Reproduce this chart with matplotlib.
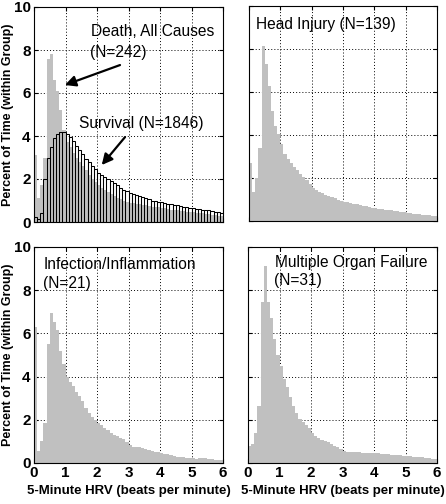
import numpy as np
import matplotlib
matplotlib.use("Agg")
import matplotlib.pyplot as plt

plt.rcParams['font.family'] = ['Liberation Sans', 'DejaVu Sans']

bin_edges = np.round(np.arange(0, 6.01, 0.1), 2)

death_all = [3.1, 1.1, 1.7, 3.0, 7.6, 7.8, 6.6, 6.1, 5.2, 4.3,
             3.7, 3.5, 3.2, 3.0, 2.8, 2.6, 2.4, 2.2, 2.0, 1.85,
             1.7, 1.6, 1.5, 1.4, 1.3, 1.2, 1.1, 1.05, 1.0, 0.95,
             0.9, 0.87, 0.84, 0.82, 0.8, 0.78, 0.75, 0.72, 0.7, 0.68,
             0.65, 0.63, 0.6, 0.58, 0.56, 0.54, 0.52, 0.5, 0.48, 0.46,
             0.45, 0.43, 0.41, 0.4, 0.38, 0.36, 0.34, 0.32, 0.3, 0.28]

survival = [0.25, 0.15, 0.4, 2.0, 3.0, 3.5, 3.9, 4.1, 4.2, 4.2,
            4.1, 3.95, 3.75, 3.55, 3.35, 3.15, 2.95, 2.8, 2.6, 2.45,
            2.3, 2.2, 2.1, 2.0, 1.9, 1.8, 1.7, 1.6, 1.5, 1.42,
            1.35, 1.3, 1.25, 1.2, 1.15, 1.1, 1.05, 1.0, 0.98, 0.95,
            0.92, 0.88, 0.85, 0.82, 0.8, 0.77, 0.74, 0.72, 0.7, 0.67,
            0.65, 0.62, 0.6, 0.58, 0.56, 0.54, 0.5, 0.47, 0.45, 0.42]

head_injury = [2.7, 1.35, 2.0, 3.4, 8.15, 7.3, 6.3, 5.1, 4.4, 4.05,
               3.6, 3.1, 2.9, 2.7, 2.5, 2.35, 2.2, 2.05, 1.9, 1.7,
               1.55, 1.45, 1.35, 1.3, 1.2, 1.15, 1.1, 1.05, 1.0, 0.95,
               0.9, 0.87, 0.84, 0.8, 0.77, 0.74, 0.71, 0.68, 0.65, 0.62,
               0.6, 0.58, 0.56, 0.53, 0.51, 0.49, 0.47, 0.45, 0.42, 0.4,
               0.38, 0.36, 0.34, 0.33, 0.31, 0.29, 0.28, 0.26, 0.24, 0.22]

infection = [6.3, 0.55, 1.0, 1.85, 5.5, 6.95, 6.55, 6.15, 5.2, 4.6,
             4.0, 3.75, 3.55, 3.3, 3.1, 2.85, 2.55, 2.3, 2.15, 2.0,
             1.85, 1.75, 1.6, 1.55, 1.4, 1.3, 1.25, 1.15, 1.1, 0.95,
             0.85, 0.75, 0.75, 0.73, 0.7, 0.65, 0.6, 0.55, 0.5, 0.5,
             0.45, 0.42, 0.4, 0.36, 0.33, 0.3, 0.28, 0.26, 0.25, 0.23,
             0.22, 0.2, 0.25, 0.25, 0.22, 0.2, 0.18, 0.16, 0.15, 0.14]

organ_failure = [0.8, 0.9, 1.4, 2.65, 7.45, 9.1, 7.45, 6.7, 5.75, 5.0,
                 4.5, 3.9, 3.5, 3.05, 2.65, 2.3, 2.05, 1.9, 1.75, 1.6,
                 1.4, 1.25, 1.15, 1.05, 1.0, 0.95, 0.9, 0.8, 0.72, 0.65,
                 0.57, 0.53, 0.53, 0.52, 0.5, 0.5, 0.48, 0.46, 0.46, 0.45,
                 0.45, 0.44, 0.42, 0.41, 0.4, 0.38, 0.37, 0.36, 0.35, 0.33,
                 0.33, 0.32, 0.3, 0.29, 0.28, 0.27, 0.25, 0.22, 0.2, 0.2]

x_ticks = [0, 1, 2, 3, 4, 5, 6]
y_ticks = [0, 2, 4, 6, 8, 10]
ylabel_text = "Percent of Time (within Group)"
xlabel_text = "5-Minute HRV (beats per minute)"

GRAY = "#c0c0c0"
ANN_FS = 11.2

fig = plt.figure(figsize=(4.46, 5.04), dpi=100)
W, H = 446, 504

def make_ax(l, r, t, b):
    return fig.add_axes([l / W, 1 - b / H, (r - l) / W, (b - t) / H])

ax_tl = make_ax(34, 223, 7, 222)
ax_tr = make_ax(249, 437, 6, 221)
ax_bl = make_ax(34, 223, 247, 463)
ax_br = make_ax(248, 437, 247, 463)

left = bin_edges[:-1]
width = 0.1

def style(ax, show_x, show_y):
    ax.set_xlim(0, 6)
    ax.set_ylim(0, 10)
    ax.set_xticks(x_ticks)
    ax.set_yticks(y_ticks)
    ax.set_axisbelow(True)
    ax.grid(True, linestyle=(0, (1, 2.2)), color="black", linewidth=0.7)
    ax.tick_params(direction="in", top=True, right=True, length=3,
                   labelsize=11, width=0.8, pad=2.5)
    for lab in ax.get_xticklabels() + ax.get_yticklabels():
        lab.set_fontweight("bold")
    if not show_x:
        ax.set_xticklabels([])
    if not show_y:
        ax.set_yticklabels([])
    for s in ax.spines.values():
        s.set_linewidth(0.8)

def gray_hist(ax, vals):
    ax.bar(left, vals, width=width, align="edge", color=GRAY, edgecolor="none",
           linewidth=0)

arrow_props = dict(arrowstyle="-|>", color="black", lw=1.6,
                   mutation_scale=16, shrinkA=0, shrinkB=0)

# Top-left
gray_hist(ax_tl, death_all)
ax_tl.bar(left, survival, width=width, align="edge", fill=False,
          edgecolor="black", linewidth=0.75)
style(ax_tl, False, True)
ax_tl.set_ylabel(ylabel_text, fontsize=9, fontweight="bold")
ax_tl.yaxis.set_label_coords(-0.108, 0.5)
ax_tl.text(1.8, 8.85, "Death, All Causes", fontsize=ANN_FS, va="center", ha="left")
ax_tl.text(1.78, 7.9, "(N=242)", fontsize=ANN_FS, va="center", ha="left")
ax_tl.annotate("", xy=(0.98, 6.37), xytext=(2.73, 7.3), arrowprops=arrow_props)
ax_tl.text(1.43, 4.6, "Survival (N=1846)", fontsize=ANN_FS, va="center", ha="left")
ax_tl.annotate("", xy=(2.15, 2.65), xytext=(2.89, 3.95), arrowprops=arrow_props)

# Top-right
gray_hist(ax_tr, head_injury)
style(ax_tr, False, False)
ax_tr.text(0.22, 9.15, "Head Injury (N=139)", fontsize=ANN_FS, va="center", ha="left")

# Bottom-left
gray_hist(ax_bl, infection)
style(ax_bl, True, True)
ax_bl.set_ylabel(ylabel_text, fontsize=9, fontweight="bold")
ax_bl.yaxis.set_label_coords(-0.108, 0.5)
ax_bl.set_xlabel(xlabel_text, fontsize=9.5, fontweight="bold", labelpad=3)
ax_bl.text(0.32, 9.2, "Infection/Inflammation", fontsize=ANN_FS, va="center", ha="left")
ax_bl.text(0.3, 8.3, "(N=21)", fontsize=ANN_FS, va="center", ha="left")

# Bottom-right
gray_hist(ax_br, organ_failure)
style(ax_br, True, False)
ax_br.set_xlabel(xlabel_text, fontsize=9.5, fontweight="bold", labelpad=3)
ax_br.text(0.86, 9.3, "Multiple Organ Failure", fontsize=ANN_FS, va="center", ha="left")
ax_br.text(0.84, 8.45, "(N=31)", fontsize=ANN_FS, va="center", ha="left")

fig.savefig("out.png", dpi=100)
